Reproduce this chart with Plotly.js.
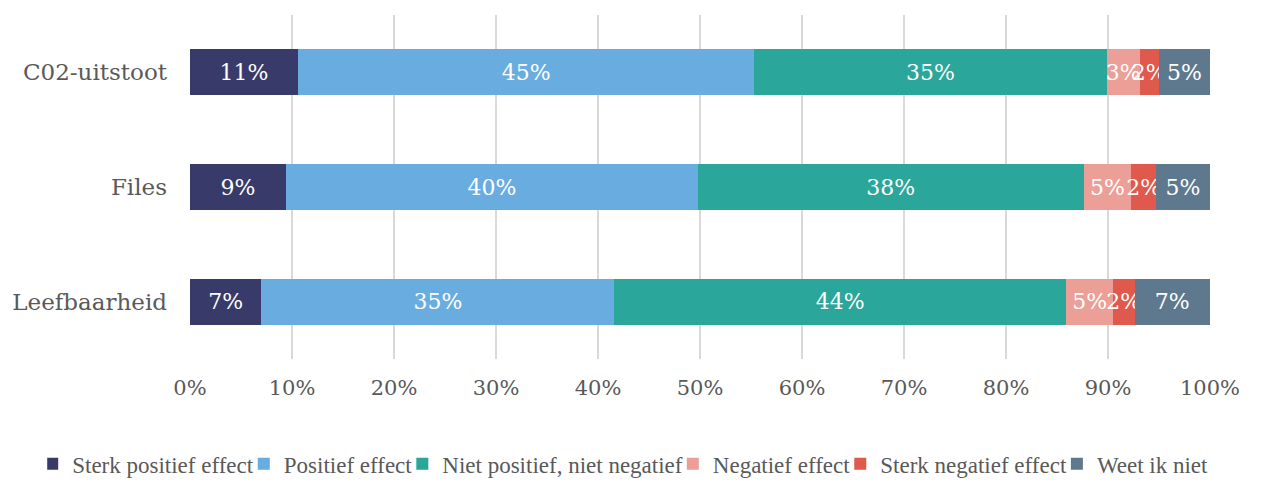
<!DOCTYPE html>
<html>
<head>
<meta charset="utf-8">
<script src="https://cdn.plot.ly/plotly-3.0.1.min.js"></script>
<style>
  html, body { margin: 0; padding: 0; background: #fff; }
  #plot { width: 1275px; height: 484px; }
</style>
</head>
<body>
<div id="plot"></div>
<script>
// categories, top to bottom
const categories = ['C02-uitstoot', 'Files', 'Leefbaarheid'];

// share of respondents per answer (%)
const sterkPositief = [10.6, 9.4, 7.0];
const positief = [44.7, 40.4, 34.6];
const nietPosNietNeg = [34.6, 37.8, 44.3];
const negatief = [3.2, 4.7, 4.6];
const sterkNegatief = [1.9, 2.4, 2.1];
const weetNiet = [5.0, 5.3, 7.4];

const seriesNames = ['Sterk positief effect', 'Positief effect', 'Niet positief, niet negatief',
  'Negatief effect', 'Sterk negatief effect', 'Weet ik niet'];
const seriesValues = [sterkPositief, positief, nietPosNietNeg, negatief, sterkNegatief, weetNiet];
const seriesColors = ['#383a69', '#69ace0', '#2aa69b', '#eb9f97', '#df5a4c', '#5e798e'];

const xTicks = [0, 10, 20, 30, 40, 50, 60, 70, 80, 90, 100];

const serif = 'DejaVu Serif, Liberation Serif, serif';

const traces = seriesNames.map((name, i) => ({
  type: 'bar',
  orientation: 'h',
  name: name,
  y: categories,
  x: seriesValues[i],
  marker: { color: seriesColors[i] },
  texttemplate: '%{x:.0f}%',
  textposition: 'inside',
  insidetextanchor: 'middle',
  textangle: 0,
  textfont: { family: serif, size: 22, color: '#ffffff' },
  hoverinfo: 'skip'
}));

const layout = {
  barmode: 'stack',
  bargap: 0.6,
  margin: { l: 190, r: 65, t: 15, b: 125, autoexpand: false },
  paper_bgcolor: '#ffffff',
  plot_bgcolor: '#ffffff',
  uniformtext: { mode: 'show', minsize: 22 },
  xaxis: {
    range: [0, 100],
    tickvals: xTicks,
    ticktext: xTicks.map(v => v + '%'),
    showgrid: true,
    gridcolor: '#d9d9d9',
    gridwidth: 2,
    zeroline: false,
    showline: false,
    ticks: '',
    ticklabelstandoff: 14,
    tickfont: { family: serif, size: 21, color: '#595959' },
    fixedrange: true
  },
  yaxis: {
    autorange: 'reversed',
    showgrid: false,
    zeroline: false,
    showline: false,
    ticks: '',
    ticklabelstandoff: 22,
    tickfont: { family: serif, size: 23, color: '#595959' },
    fixedrange: true
  },
  showlegend: true,
  legend: {
    orientation: 'h',
    x: -0.14,
    xanchor: 'left',
    y: -0.305,
    yanchor: 'middle',
    indentation: -15,
    traceorder: 'normal',
    font: { family: 'Liberation Serif, serif', size: 23, color: '#595959' }
  }
};

Plotly.newPlot('plot', traces, layout, { displayModeBar: false, staticPlot: true });
</script>
</body>
</html>
